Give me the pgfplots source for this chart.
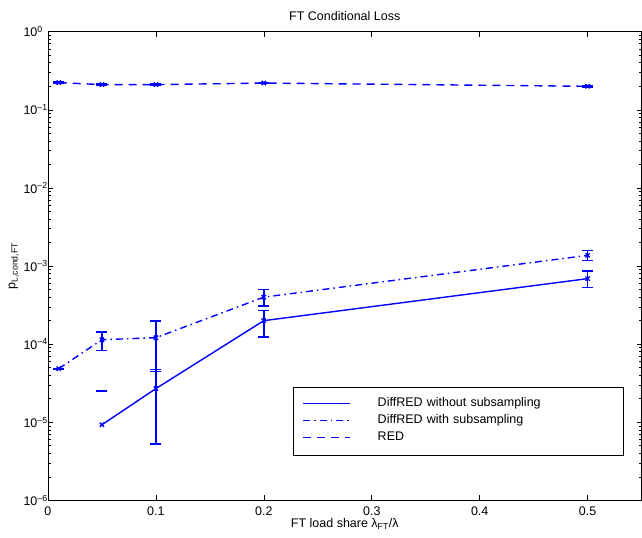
\documentclass[border=0pt]{standalone}
\usepackage{fontspec}
\setmainfont{Liberation Sans}
\usepackage{pgfplots}
\pgfplotsset{compat=1.18}
\definecolor{mblue}{RGB}{0,0,255}

\begin{document}
\begin{tikzpicture}
\begin{axis}[
    name=ax,
    scale only axis, width=594pt, height=469pt,
    xmin=0, xmax=0.55, ymode=log, ymin=1e-6, ymax=1,
    font=\fontsize{12.5}{14}\selectfont,
    xtick={0,0.1,0.2,0.3,0.4,0.5},
    xticklabels={0,0.1,0.2,0.3,0.4,0.5},
    ytick={1e-6,1e-5,1e-4,1e-3,1e-2,1e-1,1},
    yticklabels={10\textsuperscript{–6},10\textsuperscript{–5},10\textsuperscript{–4},10\textsuperscript{–3},10\textsuperscript{–2},10\textsuperscript{–1},10\textsuperscript{0}},
    yticklabel style={anchor=west, xshift=-28pt},
    xticklabel style={yshift=-3pt},
    tick align=inside, major tick length=5pt, minor tick length=3pt,
    tick style={black, line width=0.6pt},
    axis line style={line width=0.8pt},
    title={FT Conditional Loss},
    title style={yshift=2pt},
    xlabel={FT load share λ\textsubscript{FT}/λ},
    ylabel={p\textsubscript{L,cond,FT}},
    ylabel style={yshift=-2pt},
    xlabel style={yshift=4pt},
    legend style={at={(0.97,0.097)}, anchor=south east, draw=black,
      inner xsep=9pt, inner ysep=8.5pt, font=\fontsize{12.5}{14}\selectfont,
      nodes={inner xsep=4pt, inner ysep=2.5pt, text height=9pt, text depth=3pt}},
    legend cell align=left,
    legend image code/.code={\draw[#1, mblue, line width=1.4pt] (0pt,0pt) -- (47pt,0pt);},
    /tikz/every odd column/.append style={column sep=23pt},
    /tikz/every even column/.append style={text width=233pt},
    /pgfplots/every error bar/.append style={draw=mblue, color=mblue},
]
% DiffRED without subsampling
\addplot[color=mblue, line width=1.4pt, solid, mark=x, mark options={solid, mark size=3pt}] table {
x y
0.05 9.3e-6
0.1 2.7e-5
0.2 2.0e-4
0.5 6.9e-4
};
\addlegendentry{DiffRED without subsampling}
% DiffRED with subsampling
\addplot[color=mblue, line width=1.4pt, dash pattern=on 7pt off 4pt on 1.5pt off 4pt, mark=x, mark options={solid, mark size=3pt}] table {
x y
0.01 4.86e-5
0.05 1.14e-4
0.1 1.21e-4
0.2 4.0e-4
0.5 1.37e-3
};
\addlegendentry{DiffRED with subsampling}
% RED
\addplot[color=mblue, line width=1.4pt, dash pattern=on 8pt off 6pt, mark=x, mark options={solid, mark size=3pt}] table {
x y
0.01 0.223
0.05 0.210
0.1 0.210
0.2 0.220
0.5 0.200
};
\addlegendentry{RED}

% error bars
\pgfplotsset{myerr/.style={color=mblue, draw=none, mark=none, forget plot,
  error bars/.cd, y dir=both, y explicit, error mark=|,
  error bar style={draw=mblue, color=mblue, solid, line width=1.4pt},
  error mark options={draw=mblue, color=mblue, solid, mark size=5.5pt, line width=1.4pt}}}
\addplot[myerr] table[x=x, y=y, y error plus=ep, y error minus=em] {
x y ep em
0.1 2.7e-5 2.0e-5 2.17e-5
0.2 2.0e-4 0.68e-4 0.77e-4
0.5 6.9e-4 1.7e-4 1.63e-4
};
\addplot[myerr] table[x=x, y=y, y error plus=ep, y error minus=em] {
x y ep em
0.01 4.86e-5 0.05e-5 0.05e-5
0.05 1.14e-4 0.29e-4 0.31e-4
0.1 1.21e-4 0.77e-4 0.76e-4
0.2 4.0e-4 0.97e-4 0.93e-4
0.5 1.37e-3 0.21e-3 0.20e-3
};
\addplot[myerr] table[x=x, y=y, y error plus=ep, y error minus=em] {
x y ep em
0.01 0.223 0.003 0.003
0.05 0.210 0.003 0.003
0.1 0.210 0.003 0.003
0.2 0.220 0.003 0.003
0.5 0.200 0.003 0.003
};
% upper error cap only (lower bound not positive)
\addplot[color=mblue, only marks, forget plot, mark=-, mark options={mark size=5.5pt, line width=1.4pt}] table {
x y
0.05 2.5e-5
};
\end{axis}
\path ([shift={(-48pt,31.7pt)}]ax.north west) rectangle ([shift={(0pt,-37.3pt)}]ax.south east);
\end{tikzpicture}
\end{document}
